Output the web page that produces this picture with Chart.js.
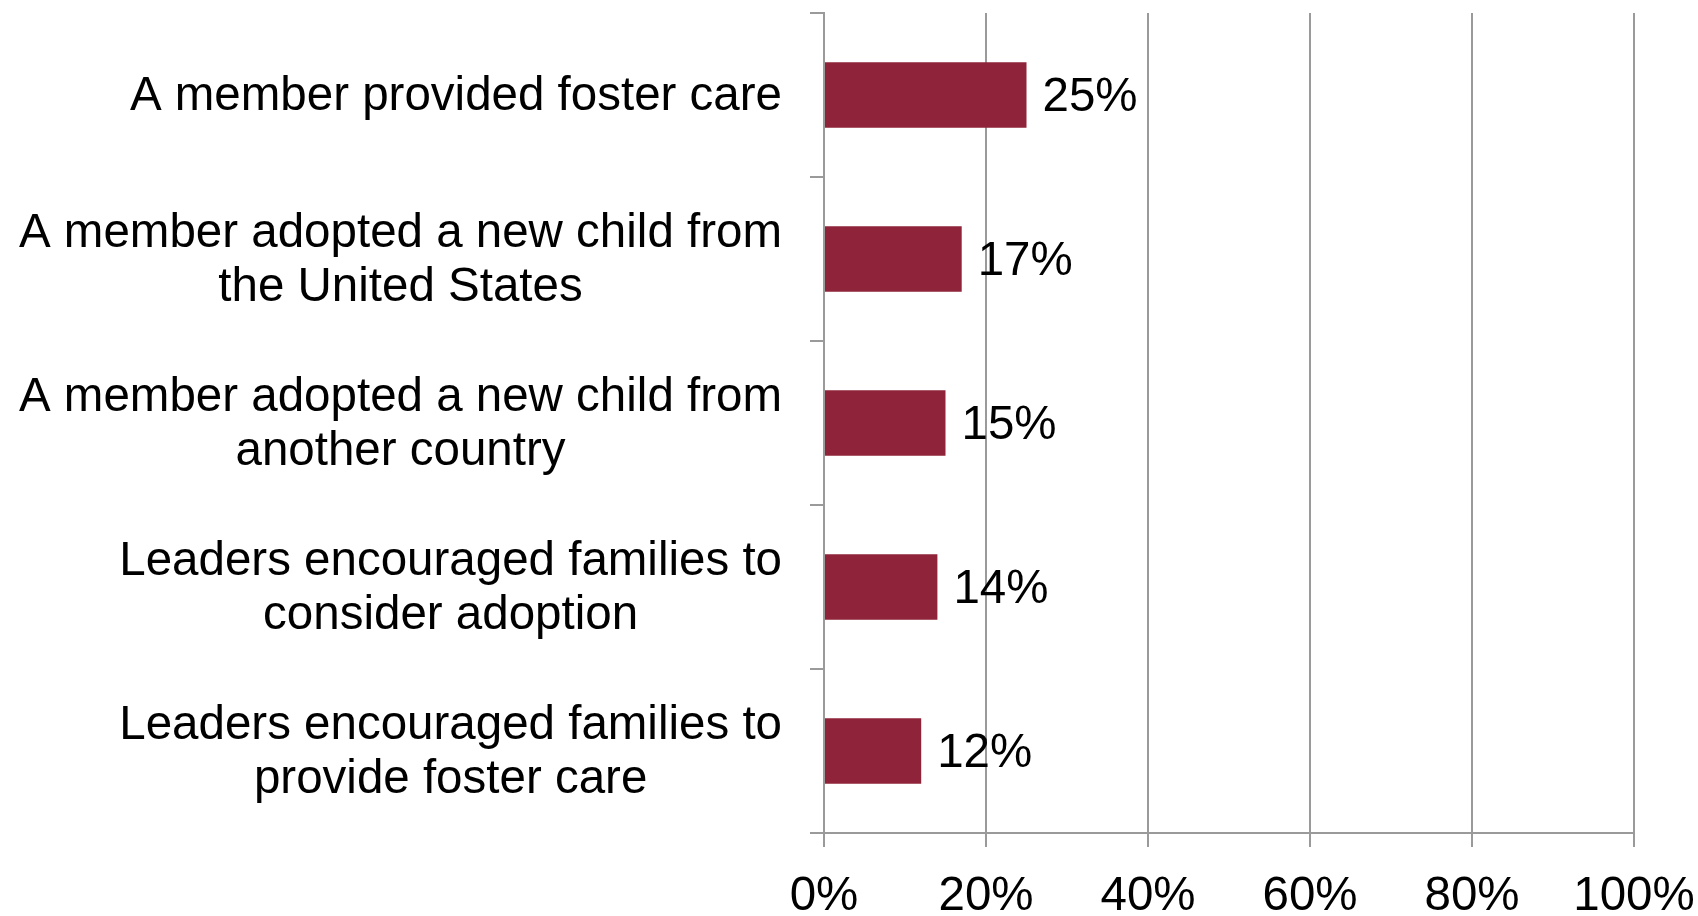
<!DOCTYPE html>
<html>
<head>
<meta charset="utf-8">
<script src="https://cdn.jsdelivr.net/npm/chart.js@4/dist/chart.umd.min.js"></script>
<style>
  html, body { margin: 0; padding: 0; background: #fff; }
  #wrap { width: 1698px; height: 916px; position: relative; }
</style>
</head>
<body>
<div id="wrap"><canvas id="chart"></canvas></div>
<script>
var categories = [
  ["A member provided foster care"],
  ["A member adopted a new child from", "the United States"],
  ["A member adopted a new child from", "another country"],
  ["Leaders encouraged families to", "consider adoption"],
  ["Leaders encouraged families to", "provide foster care"]
];
var percents = [25, 17, 15, 14, 12];
var tickValues = [0, 20, 40, 60, 80, 100];

var FONT = "'Liberation Sans', Arial, sans-serif";
var FONT_SIZE = 47.5;
var GRID = "#9a9a9a";
var BAR = "#8f2339";

// "25%" style labels just past the end of each bar
var barLabels = {
  id: "barLabels",
  afterDatasetsDraw: function(chart) {
    var ctx = chart.ctx, meta = chart.getDatasetMeta(0);
    ctx.save();
    ctx.font = FONT_SIZE + "px " + FONT;
    ctx.fillStyle = "#000";
    ctx.textAlign = "left";
    ctx.textBaseline = "middle";
    meta.data.forEach(function(bar, i) {
      ctx.fillText(percents[i] + "%", bar.x + 16, bar.y + 3);
    });
    ctx.restore();
  }
};

// category labels: block right-aligned against the axis, lines centred inside it
var categoryLabels = {
  id: "categoryLabels",
  afterDraw: function(chart) {
    var ctx = chart.ctx, y = chart.scales.y;
    var right = chart.chartArea.left - 14 - 28;
    var lineH = 54;
    ctx.save();
    ctx.font = FONT_SIZE + "px " + FONT;
    ctx.fillStyle = "#000";
    ctx.textAlign = "center";
    ctx.textBaseline = "middle";
    categories.forEach(function(lines, i) {
      var cy = y.getPixelForTick(i);
      var w = 0;
      lines.forEach(function(l) { w = Math.max(w, ctx.measureText(l).width); });
      var cx = right - w / 2;
      lines.forEach(function(l, j) {
        ctx.fillText(l, cx, cy + (j - (lines.length - 1) / 2) * lineH + 2);
      });
    });
    ctx.restore();
  }
};

var chart = new Chart(document.getElementById("chart"), {
  type: "bar",
  data: {
    labels: categories.map(function(l) { return l.join(" "); }),
    datasets: [{
      data: percents,
      backgroundColor: BAR,
      borderWidth: 0,
      barPercentage: 0.4,
      categoryPercentage: 1
    }]
  },
  options: {
    indexAxis: "y",
    responsive: true,
    maintainAspectRatio: false,
    animation: false,
    layout: { padding: { left: 15, right: 64, top: 13, bottom: 0 } },
    plugins: {
      legend: { display: false },
      tooltip: { enabled: false }
    },
    scales: {
      x: {
        min: 0,
        max: 100,
        afterBuildTicks: function(scale) {
          scale.ticks = tickValues.map(function(v) { return { value: v }; });
        },
        afterFit: function(scale) {
          scale.height = 83;
          scale.paddingLeft = 0;
          scale.paddingRight = 0;
        },
        grid: { color: GRID, lineWidth: 2, tickLength: 14, drawTicks: true },
        border: { display: true, color: GRID, width: 2 },
        ticks: {
          font: { family: FONT, size: FONT_SIZE },
          color: "#000",
          padding: 21,
          maxRotation: 0,
          callback: function(v) { return v + "%"; }
        }
      },
      y: {
        afterFit: function(scale) {
          scale.width = 809;
          scale.paddingTop = 0;
          scale.paddingBottom = 0;
        },
        grid: { color: GRID, lineWidth: 2, tickLength: 14, drawOnChartArea: false, drawTicks: true },
        border: { display: true, color: GRID, width: 2 },
        ticks: { display: false }
      }
    }
  },
  plugins: [barLabels, categoryLabels]
});
</script>
</body>
</html>
